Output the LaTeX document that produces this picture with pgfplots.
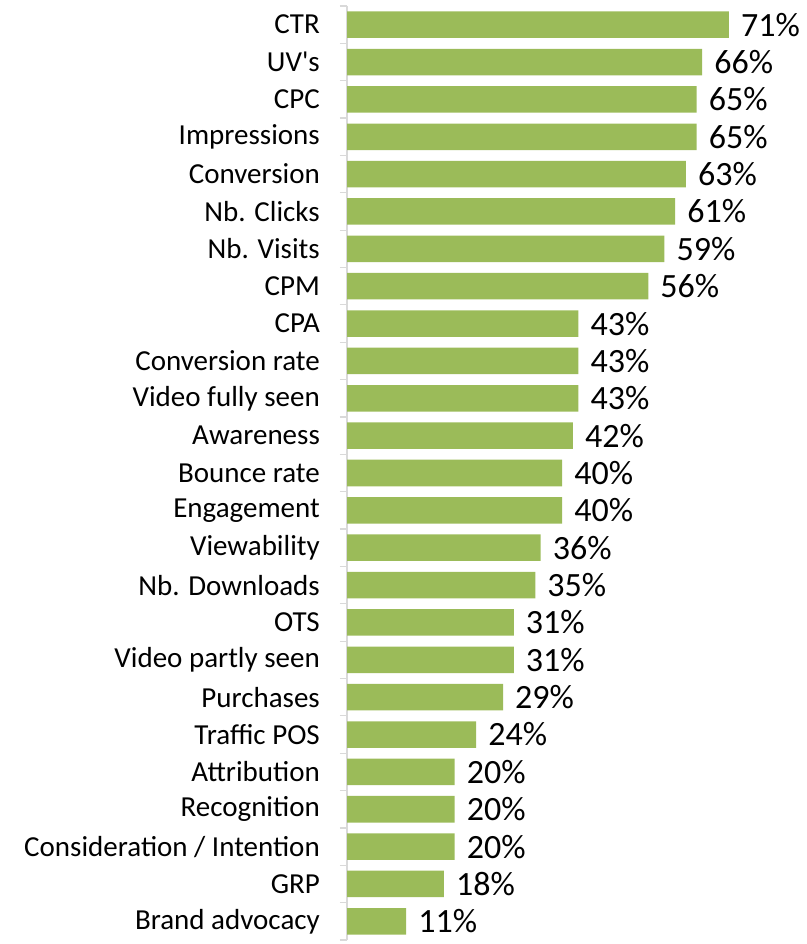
\documentclass[border=0pt]{standalone}
\usepackage{pgfplots}
\pgfplotsset{compat=1.18}
\usepackage{fontspec}
\setmainfont{Carlito}[Ligatures=TeXOff]
\definecolor{barg}{HTML}{9BBB59}
\definecolor{axg}{HTML}{D9D9D9}
\begin{document}
\begin{tikzpicture}
\path[use as bounding box] (0,0) rectangle (807bp,944bp);
\begin{axis}[
  at={(347bp,4bp)}, anchor=south west,
  scale only axis, width=430.4bp, height=934bp,
  xmin=0, xmax=80, ymin=-0.5, ymax=24.5, y dir=reverse,
  xbar, bar width=0.71, bar shift=0,
  axis x line=none, axis y line*=left,
  y axis line style={draw=axg, line width=1.2bp},
  ytick={0,...,24},
  yticklabels={CTR,UV's,CPC,Impressions,Conversion,Nb. Clicks,Nb. Visits,CPM,CPA,Conversion rate,Video fully seen,Awareness,Bounce rate,Engagement,Viewability,Nb. Downloads,OTS,Video partly seen,Purchases,Traffic POS,Attribution,Recognition,Consideration / Intention,GRP,Brand advocacy},
  major tick length=0pt,
  minor ytick={-0.5,0.5,...,24.5}, minor tick length=7bp, tick align=outside,
  minor tick style={draw=axg, line width=1.2bp},
  yticklabel style={font=\fontsize{29bp}{34bp}\selectfont, anchor=east, inner sep=0pt, xshift=-27bp},
  nodes near coords={\pgfmathprintnumber{\pgfplotspointmeta}\%},
  nodes near coords style={font=\fontsize{34bp}{40bp}\selectfont, anchor=west, inner sep=0pt, xshift=12bp, text=black},
  /pgf/number format/assume math mode=true,
  clip=false,
]
\addplot[fill=barg, draw=none] coordinates {
(71,0) (66,1) (65,2) (65,3) (63,4) (61,5) (59,6) (56,7) (43,8) (43,9) (43,10) (42,11) (40,12) (40,13) (36,14) (35,15) (31,16) (31,17) (29,18) (24,19) (20,20) (20,21) (20,22) (18,23) (11,24)};
\end{axis}
\end{tikzpicture}
\end{document}
